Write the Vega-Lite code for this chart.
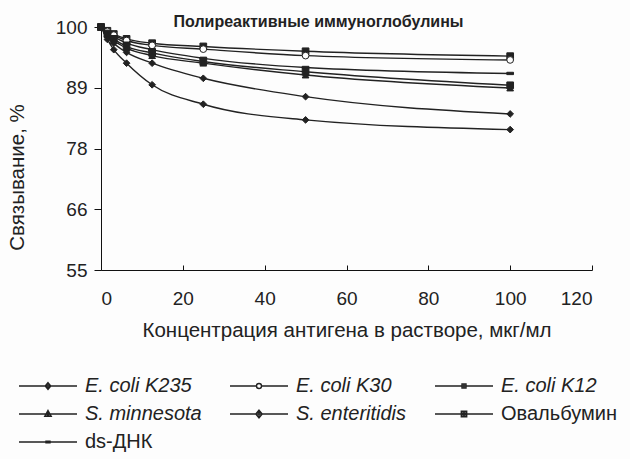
{
  "$schema": "https://vega.github.io/schema/vega-lite/v6.json",
  "autosize": {"type": "none"},
  "width": 491,
  "height": 243,
  "padding": {"left": 101, "top": 27, "right": 38, "bottom": 189},
  "background": "#fdfdfd",
  "config": {
    "font": "Liberation Sans",
    "view": {"stroke": null},
    "axis": {"grid": false, "domainColor": "#111", "tickColor": "#111", "labelColor": "#222", "titleColor": "#222", "labelFont": "Liberation Sans", "titleFont": "Liberation Sans"}
  },
  "title": {"text": "Полиреактивные иммуноглобулины", "fontSize": 16, "fontWeight": "bold", "color": "#222", "anchor": "middle", "dx": -28, "offset": -12},
  "data": {"values": [
    {"x": 0, "v": 100, "s": "E. coli K12"}, {"x": 1.56, "v": 99.3, "s": "E. coli K12"}, {"x": 3.125, "v": 98.7, "s": "E. coli K12"}, {"x": 6.25, "v": 97.8, "s": "E. coli K12"}, {"x": 12.5, "v": 97.0, "s": "E. coli K12"}, {"x": 25, "v": 96.4, "s": "E. coli K12"}, {"x": 50, "v": 95.5, "s": "E. coli K12"}, {"x": 100, "v": 94.6, "s": "E. coli K12"},
    {"x": 0, "v": 100, "s": "E. coli K30"}, {"x": 1.56, "v": 99.2, "s": "E. coli K30"}, {"x": 3.125, "v": 98.5, "s": "E. coli K30"}, {"x": 6.25, "v": 97.5, "s": "E. coli K30"}, {"x": 12.5, "v": 96.6, "s": "E. coli K30"}, {"x": 25, "v": 95.9, "s": "E. coli K30"}, {"x": 50, "v": 94.7, "s": "E. coli K30"}, {"x": 100, "v": 93.9, "s": "E. coli K30"},
    {"x": 0, "v": 100, "s": "ds-ДНК"}, {"x": 1.56, "v": 99.0, "s": "ds-ДНК"}, {"x": 3.125, "v": 98.2, "s": "ds-ДНК"}, {"x": 6.25, "v": 97.0, "s": "ds-ДНК"}, {"x": 12.5, "v": 95.8, "s": "ds-ДНК"}, {"x": 25, "v": 94.2, "s": "ds-ДНК"}, {"x": 50, "v": 92.5, "s": "ds-ДНК"}, {"x": 100, "v": 91.4, "s": "ds-ДНК"},
    {"x": 0, "v": 100, "s": "Овальбумин"}, {"x": 1.56, "v": 98.8, "s": "Овальбумин"}, {"x": 3.125, "v": 97.8, "s": "Овальбумин"}, {"x": 6.25, "v": 96.4, "s": "Овальбумин"}, {"x": 12.5, "v": 95.2, "s": "Овальбумин"}, {"x": 25, "v": 93.6, "s": "Овальбумин"}, {"x": 50, "v": 91.7, "s": "Овальбумин"}, {"x": 100, "v": 89.2, "s": "Овальбумин"},
    {"x": 0, "v": 100, "s": "S. minnesota"}, {"x": 1.56, "v": 98.6, "s": "S. minnesota"}, {"x": 3.125, "v": 97.5, "s": "S. minnesota"}, {"x": 6.25, "v": 96.1, "s": "S. minnesota"}, {"x": 12.5, "v": 94.7, "s": "S. minnesota"}, {"x": 25, "v": 93.3, "s": "S. minnesota"}, {"x": 50, "v": 91.1, "s": "S. minnesota"}, {"x": 100, "v": 88.7, "s": "S. minnesota"},
    {"x": 0, "v": 100, "s": "S. enteritidis"}, {"x": 1.56, "v": 98.3, "s": "S. enteritidis"}, {"x": 3.125, "v": 97.0, "s": "S. enteritidis"}, {"x": 6.25, "v": 95.3, "s": "S. enteritidis"}, {"x": 12.5, "v": 93.3, "s": "S. enteritidis"}, {"x": 25, "v": 90.5, "s": "S. enteritidis"}, {"x": 50, "v": 87.1, "s": "S. enteritidis"}, {"x": 100, "v": 83.9, "s": "S. enteritidis"},
    {"x": 0, "v": 100, "s": "E. coli K235"}, {"x": 1.56, "v": 97.7, "s": "E. coli K235"}, {"x": 3.125, "v": 95.8, "s": "E. coli K235"}, {"x": 6.25, "v": 93.3, "s": "E. coli K235"}, {"x": 12.5, "v": 89.3, "s": "E. coli K235"}, {"x": 25, "v": 85.7, "s": "E. coli K235"}, {"x": 50, "v": 82.8, "s": "E. coli K235"}, {"x": 100, "v": 81.0, "s": "E. coli K235"}
  ]},
  "encoding": {
    "x": {"field": "x", "type": "quantitative", "scale": {"domain": [0, 120], "nice": false},
      "axis": {"values": [0, 20, 40, 60, 80, 100, 120], "tickSize": -5, "labelPadding": 24, "labelFontSize": 19, "title": "Концентрация антигена в растворе, мкг/мл", "titleFontSize": 20.5, "titleFontWeight": "normal", "titlePadding": 12}},
    "y": {"field": "v", "type": "quantitative", "scale": {"domain": [55, 100], "nice": false, "zero": false},
      "axis": {"values": [55, 66.25, 77.5, 88.75, 100], "format": "d", "tickSize": 7, "labelPadding": 7, "labelFontSize": 19, "title": "Связывание, %", "titleFontSize": 20.5, "titleFontWeight": "normal", "titlePadding": 28, "titleY": 150}}
  },
  "layer": [
    {"mark": {"type": "line", "interpolate": "monotone", "color": "#222", "strokeWidth": 1.4},
     "encoding": {"detail": {"field": "s"}}},
    {"mark": {"type": "point", "filled": true, "stroke": "#222", "strokeWidth": 1, "opacity": 1},
     "encoding": {
       "shape": {"field": "s", "type": "nominal",
         "scale": {"domain": ["E. coli K235", "E. coli K30", "E. coli K12", "S. minnesota", "S. enteritidis", "Овальбумин", "ds-ДНК"],
                   "range": ["diamond", "circle", "square", "triangle-up", "diamond", "square", "M-1,-0.35L1,-0.35L1,0.35L-1,0.35Z"]},
         "legend": null},
       "fill": {"field": "s", "type": "nominal",
         "scale": {"domain": ["E. coli K235", "E. coli K30", "E. coli K12", "S. minnesota", "S. enteritidis", "Овальбумин", "ds-ДНК"],
                   "range": ["#222", "#fdfdfd", "#222", "#222", "#222", "#222", "#222"]},
         "legend": null},
       "size": {"value": 45}
     }},
    {"mark": {"type": "point", "filled": false, "color": "#222", "strokeWidth": 1.4, "opacity": 1},
     "encoding": {
       "shape": {"field": "s", "type": "nominal",
         "scale": {"domain": ["E. coli K235", "E. coli K30", "E. coli K12", "S. minnesota", "S. enteritidis", "Овальбумин", "ds-ДНК"],
                   "range": [
                     "M-1.1,0L4.7,0M1.8,-0.33L2.08,0L1.8,0.33L1.52,0ZM1.8,-0.18L1.8,0.18",
                     "M-1.1,0L1.55,0M2.05,0L4.7,0M1.55,0A0.25,0.25 0 1,1 2.05,0A0.25,0.25 0 1,1 1.55,0",
                     "M-1.1,0L4.7,0M1.6,-0.2L2,-0.2L2,0.2L1.6,0.2ZM1.8,-0.2L1.8,0.2",
                     "M-1.1,0L4.7,0M1.8,-0.35L2.12,0.22L1.48,0.22ZM1.8,-0.2L1.8,0.22M1.65,0.1L1.95,0.1",
                     "M-1.1,0L4.7,0M1.8,-0.38L2.12,0L1.8,0.38L1.48,0ZM1.8,-0.22L1.8,0.22",
                     "M-1.1,0L4.7,0M1.53,-0.27L2.07,-0.27L2.07,0.27L1.53,0.27ZM1.8,-0.27L1.8,0.27M1.53,-0.1L2.07,-0.1M1.53,0.1L2.07,0.1",
                     "M-1.1,0L4.7,0M1.6,-0.08L2,-0.08L2,0.08L1.6,0.08Z"]},
         "legend": {
           "title": null, "orient": "none", "legendX": -82, "legendY": 348, "direction": "horizontal", "columns": 3,
           "columnPadding": 25, "rowPadding": 7, "symbolSize": 400, "symbolStrokeWidth": 1.4, "symbolStrokeColor": "#222", "symbolOpacity": 1,
           "labelFontSize": 20, "labelColor": "#222", "labelOffset": 44, "labelFont": "Liberation Sans",
           "labelFontStyle": {"expr": "(datum.value === 'ds-ДНК' || datum.value === 'Овальбумин') ? 'normal' : 'italic'"}
         }},
       "size": {"value": 0}
     }}
  ],
  "resolve": {"scale": {"shape": "independent"}, "legend": {"shape": "independent"}}
}
